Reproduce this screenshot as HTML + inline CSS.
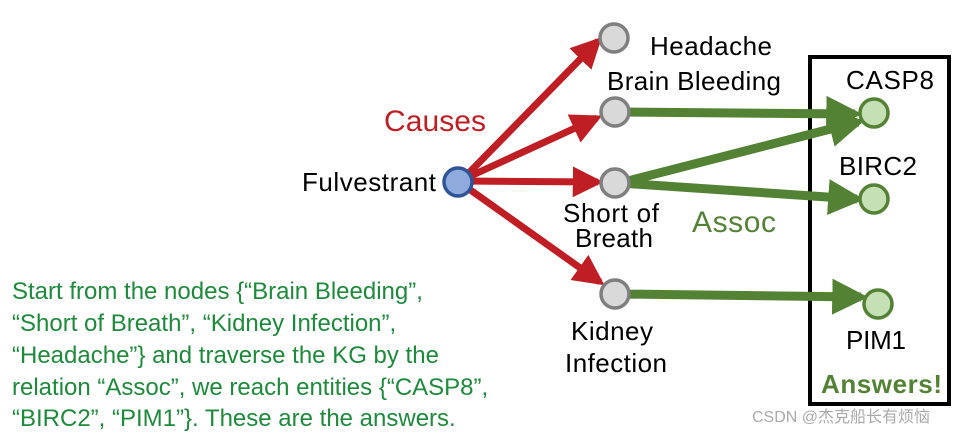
<!DOCTYPE html>
<html><head><style>
body{margin:0;background:#fff;}
svg{display:block;font-family:"Liberation Sans",Arial,sans-serif;}
</style></head><body>
<svg width="967" height="437" viewBox="0 0 967 437">
<defs>
<marker id="r" markerWidth="4.4" markerHeight="4.4" refX="3.6" refY="2.2" orient="auto" markerUnits="strokeWidth"><path d="M0,0 L4.4,2.2 L0,4.4 z" fill="#be1e24"/></marker>
<marker id="g" markerWidth="4" markerHeight="4" refX="3.2" refY="2" orient="auto" markerUnits="strokeWidth"><path d="M0,0 L4,2 L0,4 z" fill="#548235"/></marker>
</defs>
<rect x="810" y="57" width="139" height="347" fill="none" stroke="#000" stroke-width="4"/>
<g stroke="#be1e24" stroke-width="7" fill="none">
<line x1="462" y1="180" x2="598" y2="41" marker-end="url(#r)"/>
<line x1="462" y1="180" x2="597" y2="118" marker-end="url(#r)"/>
<line x1="462" y1="181" x2="598" y2="182" marker-end="url(#r)"/>
<line x1="462" y1="184" x2="600" y2="282" marker-end="url(#r)"/>
</g>
<g stroke="#548235" stroke-width="9" fill="none">
<line x1="620" y1="112" x2="855" y2="114" marker-end="url(#g)"/>
<line x1="620" y1="183" x2="858" y2="122" marker-end="url(#g)"/>
<line x1="620" y1="183" x2="857" y2="199" marker-end="url(#g)"/>
<line x1="620" y1="294" x2="861" y2="297" marker-end="url(#g)"/>
</g>
<g stroke="#7f7f7f" stroke-width="3.5" fill="#d9d9d9">
<circle cx="614" cy="38" r="14"/>
<circle cx="615" cy="112" r="14"/>
<circle cx="615" cy="183" r="14"/>
<circle cx="615" cy="294" r="14"/>
</g>
<circle cx="458" cy="182" r="14" fill="#8faadc" stroke="#2f5597" stroke-width="3.5"/>
<g stroke="#548235" stroke-width="3.5" fill="#c5e0b4">
<circle cx="874" cy="113" r="14"/>
<circle cx="874" cy="199" r="14"/>
<circle cx="878" cy="304" r="14"/>
</g>
<g font-size="26" fill="#000" textLength="">
<text x="650" y="55" textLength="122">Headache</text>
<text x="607" y="90" textLength="174">Brain Bleeding</text>
<text x="302" y="191" textLength="134">Fulvestrant</text>
<text x="563" y="222" textLength="96">Short of</text>
<text x="575" y="247" textLength="78">Breath</text>
<text x="571" y="340" textLength="82">Kidney</text>
<text x="565" y="372" textLength="102">Infection</text>
<text x="846" y="89" textLength="88">CASP8</text>
<text x="839" y="175" textLength="78">BIRC2</text>
<text x="846" y="349" textLength="60">PIM1</text>
</g>
<text x="384" y="131" font-size="30" fill="#be1e24" textLength="102">Causes</text>
<text x="692" y="232" font-size="30" fill="#548235" textLength="84">Assoc</text>
<text x="821" y="393" font-size="26" font-weight="bold" fill="#548235" textLength="121">Answers!</text>
<g font-size="24" fill="#1e8a3c">
<text x="12" y="299">Start from the nodes {“Brain Bleeding”,</text>
<text x="12" y="331">“Short of Breath”, “Kidney Infection”,</text>
<text x="12" y="363">“Headache”} and traverse the KG by the</text>
<text x="12" y="395">relation “Assoc”, we reach entities {“CASP8”,</text>
<text x="12" y="426">“BIRC2”, “PIM1”}. These are the answers.</text>
</g>
<text x="752" y="422" font-size="16" fill="#aaa" font-family="'Liberation Sans','Noto Sans CJK SC',sans-serif">CSDN @杰克船长有烦恼</text>
</svg>
</body></html>
